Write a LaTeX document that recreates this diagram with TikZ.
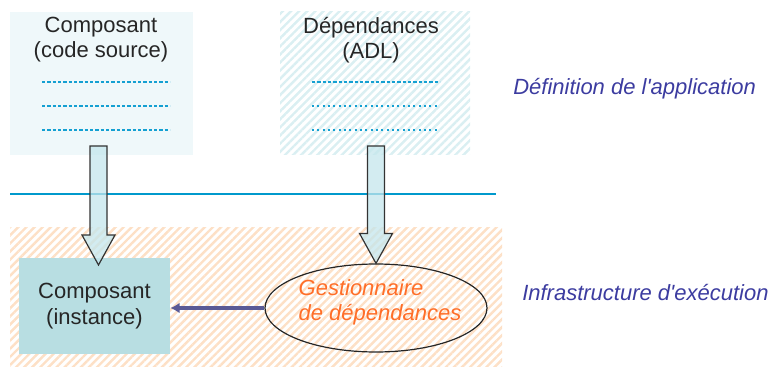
\documentclass[tikz,border=0pt]{standalone}
\usepackage{fontspec}
\setmainfont{Liberation Sans}
\usetikzlibrary{positioning, calc, patterns.meta, shapes.geometric, arrows.meta}

\definecolor{srcfill}{RGB}{239,248,250}
\definecolor{adlhatch}{RGB}{218,239,242}
\definecolor{infrahatch}{RGB}{253,224,198}
\definecolor{instfill}{RGB}{184,222,226}
\definecolor{arrowfill}{RGB}{196,230,236}
\definecolor{dotblue}{RGB}{20,160,210}
\definecolor{ruleblue}{RGB}{0,153,204}
\definecolor{bindpurple}{RGB}{90,90,150}
\definecolor{layerblue}{RGB}{60,60,160}
\definecolor{mgrorange}{RGB}{255,110,40}

\tikzset{
  boxtext/.style={anchor=north, inner sep=0pt, align=center, font=\fontsize{16.5}{19}\selectfont, text=black!85},
  codeline/.style={color=dotblue, line width=1.7pt, dash pattern=on 2.6pt off 1.4pt},
  adlline/.style={color=dotblue, line width=1.7pt, dash pattern=on 1.5pt off 2.5pt},
  instbox/.style={fill=instfill, minimum width=113.25pt, minimum height=72pt, inner sep=0pt, align=center, font=\fontsize{16.5}{19}\selectfont, text=black!85},
  mgrbox/.style={ellipse, draw=black!85, line width=0.9pt, minimum width=166.5pt, minimum height=66pt, inner sep=0pt},
  mgrtext/.style={inner sep=0pt, align=left, font=\fontsize{16.5}{19}\selectfont\itshape, text=mgrorange},
  layer/.style={inner sep=0pt, font=\fontsize{16.5}{19}\selectfont\itshape, text=layerblue},
  blockarrow/.style={draw=black!80, line width=0.9pt, fill=arrowfill, fill opacity=0.75, line join=miter},
  bind/.style={color=bindpurple, line width=3pt, -{Latex[length=7pt,width=8pt]}},
}

% block arrow from a top point #1 to a tip #2
\newcommand{\blockarrow}[2]{%
  \draw[blockarrow] ($(#1)+(-8.5,0)$) -- ($(#2)+(-8.5,-30)$) -- ($(#2)+(-16.5,-30)$) -- (#2)
    -- ($(#2)+(16.5,-30)$) -- ($(#2)+(8.5,-30)$) -- ($(#1)+(8.5,0)$) -- cycle ;}

\begin{document}
\begin{tikzpicture}[x=0.75pt,y=0.75pt,yscale=-1,xscale=1]
\useasboundingbox (0,0) rectangle (774,367);

%Shape: Rectangle [code source]
\fill [srcfill] (10,12) rectangle (193,155) ;
%Shape: Rectangle [ADL]
\path [pattern={Lines[angle=45,distance=4.3pt,line width=1.8pt]}, pattern color=adlhatch] (280,12) rectangle (470,155) ;
%Shape: Rectangle [execution]
\path [pattern={Lines[angle=45,distance=4.3pt,line width=1.8pt]}, pattern color=infrahatch] (10,227) rectangle (502,367) ;

%Straight Lines [code]
\foreach \y in {82,106,130} {
  \draw [codeline] (42,\y) -- (170,\y) ;
}
%Straight Lines [ADL]
\draw [codeline] (312,82) -- (440,82) ;
\foreach \y in {106,130} {
  \draw [adlline] (312,\y) -- (440,\y) ;
}

%Straight Lines [separation]
\draw [color=ruleblue, line width=2.2pt] (10,194) -- (496,194) ;

% Text Node
\node [boxtext] (code) at (101,17) {Composant\\(code source)};
% Text Node
\node [boxtext] (adl) at (371,17) {Dépendances\\(ADL)};

%Shape: Rectangle [instance]
\node [instbox] (inst) at (94.5,306) {Composant\\(instance)};
%Shape: Ellipse [manager]
\node [mgrbox] (mgr) at (376,308) {};
% Text Node
\node [mgrtext] (mgrlbl) at (380,302) {Gestionnaire\\de dépendances};

%Shape: Block Arrows
\coordinate (codeout) at (98.5,146);
\coordinate (instin) at (98.5,265);
\coordinate (adlout) at (376,146);
\blockarrow{codeout}{instin}
\blockarrow{adlout}{mgr.north}

%Straight Lines [binding]
\draw [bind] (mgr.west) -- (mgr.west -| inst.east) ;

% Text Node
\node [layer, anchor=base west] (applbl) at (513,95) {Définition de l\textquotesingle application};
% Text Node
\node [layer, anchor=base west] (infralbl) at (522,300) {Infrastructure d\textquotesingle exécution};
\end{tikzpicture}
\end{document}
